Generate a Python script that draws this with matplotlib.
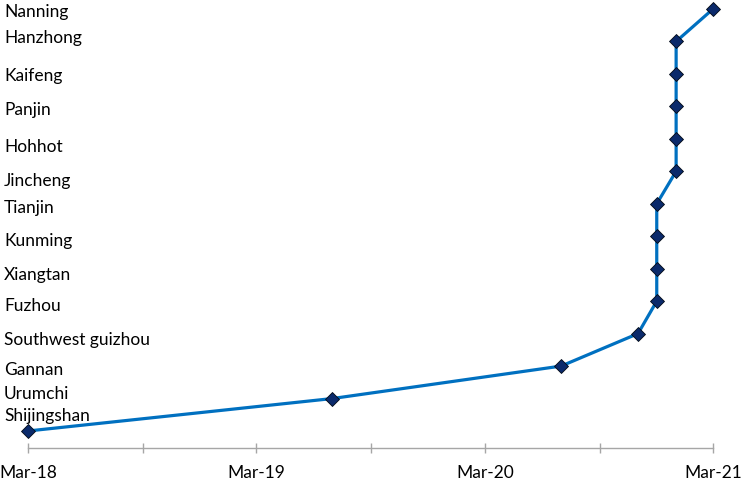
import matplotlib
matplotlib.use("Agg")
import matplotlib.pyplot as plt
import matplotlib.dates as mdates
import matplotlib.transforms as mtransforms
import pandas as pd

plt.rcParams['font.family'] = ['Lato', 'DejaVu Sans']

cities = ["Shijingshan", "Urumchi", "Gannan", "Southwest guizhou", "Fuzhou",
          "Xiangtan", "Kunming", "Tianjin", "Jincheng", "Hohhot", "Panjin",
          "Kaifeng", "Hanzhong", "Nanning"]
dates = ["2018-03-01", "2019-07-01", "2020-07-01", "2020-11-01", "2020-12-01",
         "2020-12-01", "2020-12-01", "2020-12-01", "2021-01-01", "2021-01-01",
         "2021-01-01", "2021-01-01", "2021-01-01", "2021-03-01"]
xlim_dates = ["2018-03-01", "2021-03-01"]

# label vertical nudges (pixels, up positive) to mimic the original layout
label_nudge = [15, 5, -4, -6, -5, -6, -5, -4, -10, -8, -4, -2, 3, -3]

x = pd.to_datetime(dates)
y = list(range(len(cities)))

fig = plt.figure(figsize=(7.44, 4.8), dpi=100)
ax = fig.add_axes([28/744, 32/480, 685/744, 445.5/480])

ax.plot(x, y, color="#0070C0", lw=2.3, marker="D", markersize=7.5,
        markerfacecolor="#0B2A6B", markeredgecolor="#000814",
        markeredgewidth=0.6, clip_on=False, zorder=3)

ax.set_xlim(pd.to_datetime(xlim_dates[0]), pd.to_datetime(xlim_dates[1]))
ax.set_ylim(-0.524, 13.2)

ax.xaxis.set_major_locator(mdates.MonthLocator(bymonth=[3]))
ax.xaxis.set_minor_locator(mdates.MonthLocator(bymonth=[9]))
ax.xaxis.set_major_formatter(mdates.DateFormatter("%b-%y"))

for s in ["top", "right", "left"]:
    ax.spines[s].set_visible(False)
ax.spines["bottom"].set_color("#A6A6A6")
ax.spines["bottom"].set_linewidth(1.0)
ax.set_yticks([])
ax.tick_params(axis="x", which="both", direction="inout", length=7,
               width=1.0, color="#A6A6A6", labelsize=12.5, labelcolor="#000000",
               pad=9)
ax.tick_params(axis="x", which="minor", labelbottom=False)

trans = mtransforms.blended_transform_factory(fig.transFigure, ax.transData)
for i, name in enumerate(cities):
    off = mtransforms.offset_copy(trans, fig=fig, x=0, y=label_nudge[i], units="dots")
    ax.text(4/744, y[i], name, transform=off, ha="left", va="center",
            fontsize=12.5, color="#000000", clip_on=False)

fig.savefig("out.png", dpi=100)
